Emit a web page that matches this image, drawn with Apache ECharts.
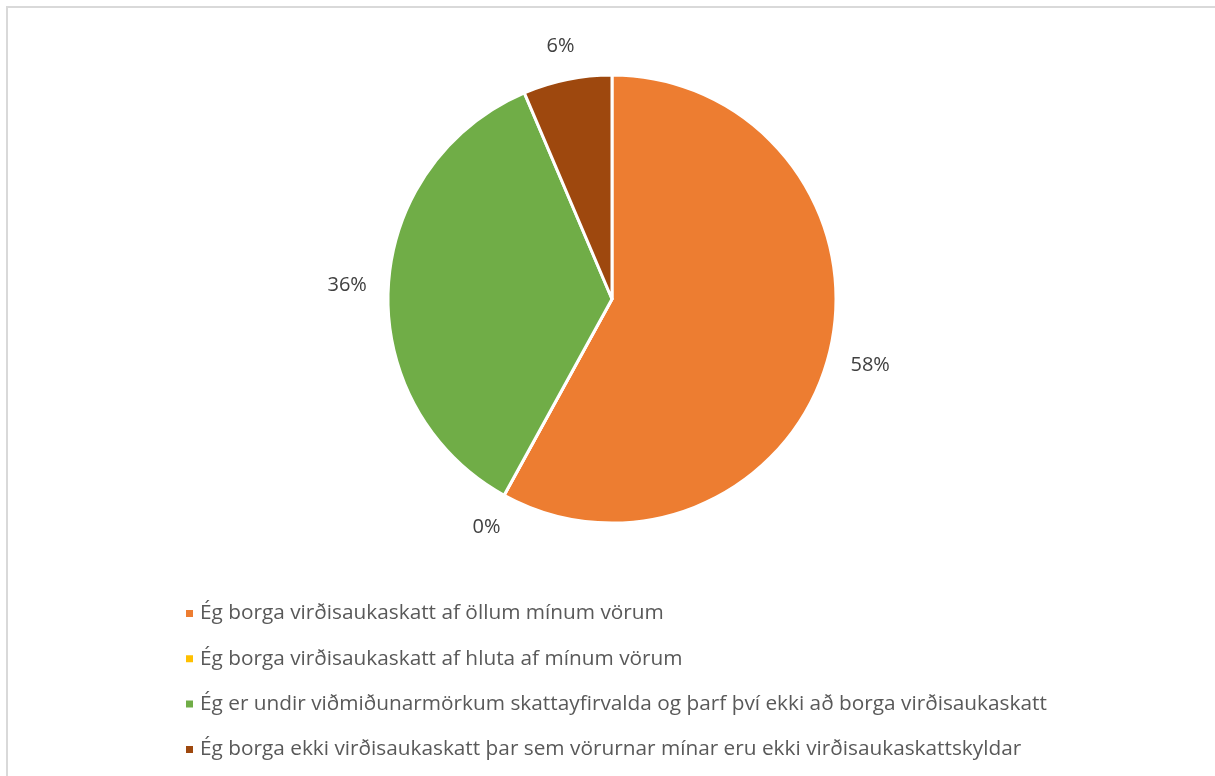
<!DOCTYPE html>
<html>
<head>
<meta charset="utf-8">
<script src="https://cdn.jsdelivr.net/npm/echarts@6/dist/echarts.min.js"></script>
<style>
html,body{margin:0;padding:0;background:#fff;}
#frame{position:absolute;left:6px;top:6px;width:1212px;height:780px;border:2px solid #d9d9d9;box-sizing:border-box;}
#chart{position:absolute;left:0;top:0;width:1215px;height:776px;}
</style>
</head>
<body>
<div id="frame"></div>
<div id="chart"></div>
<script>
const categories = [
  'Ég borga virðisaukaskatt af öllum mínum vörum',
  'Ég borga virðisaukaskatt af hluta af mínum vörum',
  'Ég er undir viðmiðunarmörkum skattayfirvalda og þarf því ekki að borga virðisaukaskatt',
  'Ég borga ekki virðisaukaskatt þar sem vörurnar mínar eru ekki virðisaukaskattskyldar'
];
const values = [58.0, 0, 35.6, 6.4];
const colors = ['#ED7D31', '#FFC000', '#70AD47', '#9E480E'];

const chart = echarts.init(document.getElementById('chart'), null, {renderer: 'canvas'});
const total = values.reduce((a, b) => a + b, 0);
const FONT = '"Open Sans", "Noto Sans", sans-serif';
const CX = 612, CY = 299, R = 224, GAP = 21;

// mid-angle (degrees clockwise from top) of each slice
const midAngles = [];
(function () {
  let cum = 0;
  values.forEach(v => { midAngles.push(360 * (cum + v / 2) / total); cum += v; });
})();

chart.setOption({
  animation: false,
  color: colors,
  legend: {
    orient: 'vertical',
    left: 179,
    top: 598,
    icon: 'rect',
    itemWidth: 9,
    itemHeight: 9,
    itemGap: 24.3,
    data: categories,
    textStyle: {fontFamily: FONT, fontSize: 20.8, color: '#595959', padding: [0, 0, 0, 1]}
  },
  series: [
    {
      type: 'pie',
      center: [CX, CY],
      radius: [0, R],
      startAngle: 90,
      clockwise: true,
      minShowLabelAngle: 0,
      label: {
        show: true,
        position: 'outside',
        fontFamily: FONT,
        fontSize: 20,
        color: '#404040',
        formatter: p => Math.round(p.value / total * 100) + '%'
      },
      labelLine: {show: false, length: 5, length2: 0},
      labelLayout: function (params) {
        const i = params.dataIndex;
        const a = midAngles[i] * Math.PI / 180;
        const ux = Math.sin(a), uy = -Math.cos(a);
        const w = params.labelRect.width, h = params.labelRect.height;
        const d = R + GAP + Math.abs(ux) * w / 2 + Math.abs(uy) * h / 2;
        return {x: CX + ux * d, y: CY + uy * d, align: 'center', verticalAlign: 'middle'};
      },
      itemStyle: {borderColor: '#ffffff', borderWidth: 3},
      emphasis: {disabled: true},
      data: categories.map((c, i) => ({name: c, value: values[i], itemStyle: {color: colors[i]}}))
    }
  ]
});
</script>
</body>
</html>
